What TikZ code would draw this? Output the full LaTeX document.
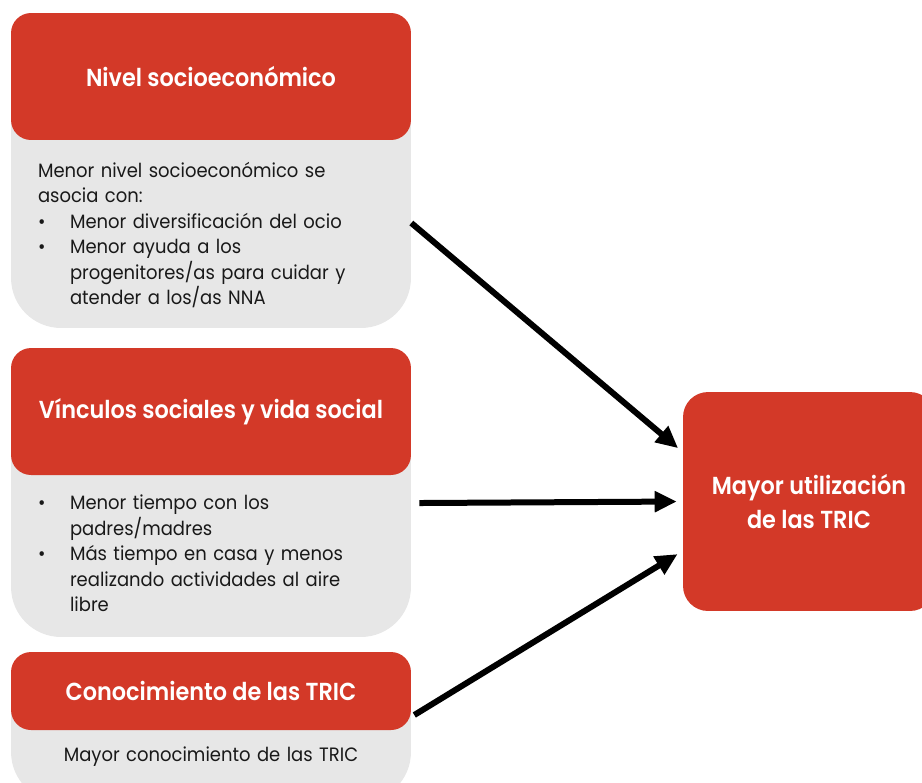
\documentclass[tikz,border=0pt]{standalone}
\usepackage{fontspec}
\setmainfont{Poppins}[FakeStretch=0.93]
\newfontfamily\headfont{Poppins SemiBold}[FakeStretch=0.91]
\usetikzlibrary{arrows.meta}

\definecolor{tricred}{RGB}{211,57,40}
\definecolor{boxgray}{RGB}{231,231,231}
\newcommand{\bul}{\makebox[0.64cm][l]{\textbullet}}
\newcommand{\ind}{\hspace*{0.64cm}}

\begin{document}
\begin{tikzpicture}[x=0.02cm,y=-0.02cm,
  head/.style={fill=tricred,text=white,rounded corners=0.4cm,minimum width=8cm,align=center,
    font=\headfont\fontsize{14}{17}\selectfont},
  back/.style={fill=boxgray,rounded corners=1cm,minimum width=8cm},
  txt/.style={text width=6.92cm,inner xsep=0.54cm,align=left,text=black!90,
    font=\fontsize{11}{14.5}\selectfont},
  conn/.style={line width=0.12cm,-{Triangle[length=0.44cm,width=0.4cm]},shorten >=0.12cm}]
\clip (0,0) rectangle (922,782);

% Backgrounds
\node[back,minimum height=6.3cm] (nseback) at (211,170.5) {};
\node[back,minimum height=5.78cm] (vsback) at (211,492.5) {};
\node[back,minimum height=3cm] (coback) at (211,727) {};

% Headers
\node[head,minimum height=2.54cm] (nsehead) at (211,76.5) {Nivel socioeconómico};
\node[head,minimum height=2.54cm] (vshead) at (211,411.5) {Vínculos sociales y vida social};
\node[head,minimum height=1.56cm] (cohead) at (211,691) {Conocimiento de las TRIC};

% Texts
\node[txt] (nsetxt) at (211,235) {Menor nivel socioeconómico se\\
  asocia con:\\
  \bul Menor diversificación del ocio\\
  \bul Menor ayuda a los\\
  \ind progenitores/as para cuidar y\\
  \ind atender a los/as NNA};
\node[txt] (vstxt) at (211,553.5) {\bul Menor tiempo con los\\
  \ind padres/madres\\
  \bul Más tiempo en casa y menos\\
  \ind realizando actividades al aire\\
  \ind libre};
\node[txt,align=center] (cotxt) at (211,757) {Mayor conocimiento de las TRIC};

% Target
\node[head,minimum width=5.04cm,minimum height=4.38cm,rounded corners=0.5cm,
  font=\headfont\fontsize{14}{19.5}\selectfont] (tric) at (809,501.5)
  {Mayor utilización\\de las TRIC};

% Arrows
\draw[conn] ([yshift=0.24cm]nsetxt.east) -- ([yshift=0.99cm]tric.west);
\draw[conn] ([xshift=0.16cm,yshift=1.01cm]vstxt.east) -- (tric.west);
\draw[conn] ([xshift=0.06cm,yshift=-0.48cm]cohead.east) -- ([yshift=-0.99cm]tric.west);

\end{tikzpicture}
\end{document}
